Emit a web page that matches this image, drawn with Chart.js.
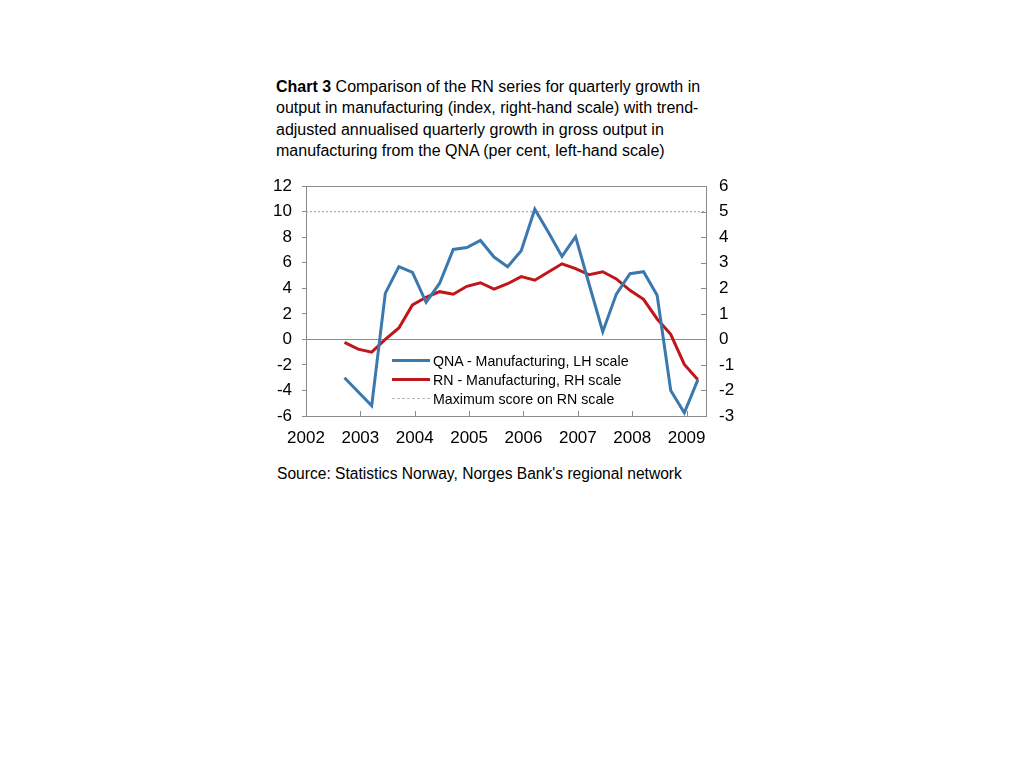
<!DOCTYPE html>
<html><head><meta charset="utf-8">
<script src="https://cdn.jsdelivr.net/npm/chart.js@4.4.0/dist/chart.umd.min.js"></script>
<style>
body{margin:0;background:#fff;font-family:"Liberation Sans",Arial,sans-serif;color:#000;}
#title{position:absolute;left:276px;top:76px;font-size:16px;line-height:21.3px;white-space:nowrap;}
#wrap{position:absolute;left:256px;top:166px;width:490px;height:294px;}
#legend{position:absolute;left:392px;top:351px;font-size:14.2px;}
.row{height:19px;display:flex;align-items:center;}
.sw{width:38px;margin-right:3px;}
#source{position:absolute;left:277px;top:465px;font-size:15.6px;white-space:nowrap;}
</style></head>
<body>
<div id="title"><b>Chart 3</b> Comparison of the RN series for quarterly growth in<br>output in manufacturing (index, right-hand scale) with trend-<br>adjusted annualised quarterly growth in gross output in<br>manufacturing from the QNA (per cent, left-hand scale)</div>
<div id="wrap"><canvas id="c" width="490" height="294"></canvas></div>
<div id="legend">
 <div class="row"><div class="sw" style="border-top:3px solid #3B78AE"></div><span>QNA - Manufacturing, LH scale</span></div>
 <div class="row"><div class="sw" style="border-top:3px solid #C0161B"></div><span>RN - Manufacturing, RH scale</span></div>
 <div class="row"><div class="sw" style="border-top:1px dashed #bbb"></div><span>Maximum score on RN scale</span></div>
</div>
<div id="source">Source: Statistics Norway, Norges Bank's regional network</div>
<script>
const quarters = ["2002Q3","2002Q4",
 "2003Q1","2003Q2","2003Q3","2003Q4",
 "2004Q1","2004Q2","2004Q3","2004Q4",
 "2005Q1","2005Q2","2005Q3","2005Q4",
 "2006Q1","2006Q2","2006Q3","2006Q4",
 "2007Q1","2007Q2","2007Q3","2007Q4",
 "2008Q1","2008Q2","2008Q3","2008Q4",
 "2009Q1"];
const qnaValues = [-3.0,-4.1,
 -5.2,3.6,5.7,5.25,
 2.9,4.4,7.05,7.2,
 7.75,6.45,5.7,6.95,
 10.2,8.4,6.5,8.05,
 4.3,0.6,3.55,5.15,
 5.3,3.45,-4.0,-5.75,
 -3.15];
const rnValues = [-0.12,-0.38,
 -0.5,0.0,0.45,1.35,
 1.65,1.87,1.77,2.08,
 2.22,1.97,2.18,2.46,
 2.32,2.64,2.96,2.77,
 2.53,2.65,2.37,1.92,
 1.57,0.8,0.2,-0.98,
 -1.58];
const maxScore = 5;
const yearTicks = [2002,2003,2004,2005,2006,2007,2008,2009];
const leftTicks = [-6,-4,-2,0,2,4,6,8,10,12];
const rightTicks = [-3,-2,-1,0,1,2,3,4,5,6];
const xMin = 2002, xMax = 2009.357;

function qx(q){const y=parseInt(q.slice(0,4));const n=parseInt(q.slice(5));return y+(3*n-0.5)/12;}
const qnaData = quarters.map((q,i)=>({x:qx(q),y:qnaValues[i]}));
const rnData = quarters.map((q,i)=>({x:qx(q),y:rnValues[i]}));
const maxData = [{x:xMin,y:maxScore},{x:xMax,y:maxScore}];

const AX = '#8a8a8a';
const FONT = {size:17, family:'"Liberation Sans", Arial, sans-serif'};
const frame = {
 id:'frame',
 beforeDatasetsDraw(chart){
  const {ctx,chartArea:a,scales} = chart;
  ctx.save();
  ctx.strokeStyle = AX; ctx.lineWidth = 1;
  ctx.strokeRect(Math.round(a.left)+0.5, Math.round(a.top)+0.5, Math.round(a.right-a.left), Math.round(a.bottom-a.top));
  ctx.beginPath();
  scales.x.ticks.forEach(t=>{
   const px = Math.round(scales.x.getPixelForValue(t.value))+0.5;
   ctx.moveTo(px, a.bottom); ctx.lineTo(px, a.bottom-5);
  });
  scales.y1.ticks.forEach(t=>{
   const py = Math.round(scales.y1.getPixelForValue(t.value))+0.5;
   ctx.moveTo(a.right, py); ctx.lineTo(a.right-5, py);
  });
  ctx.stroke();
  ctx.restore();
 }
};

new Chart(document.getElementById('c'), {
 type:'line',
 data:{datasets:[
  {label:'Maximum score on RN scale', data:maxData, yAxisID:'y1', borderColor:'#9a9a9a', borderWidth:1, borderDash:[2,2], pointRadius:0, order:3},
  {label:'RN - Manufacturing, RH scale', data:rnData, yAxisID:'y1', borderColor:'#C0161B', borderWidth:3, pointRadius:0, tension:0, order:2},
  {label:'QNA - Manufacturing, LH scale', data:qnaData, yAxisID:'y', borderColor:'#3B78AE', borderWidth:3, pointRadius:0, tension:0, order:1}
 ]},
 options:{
  responsive:false, animation:false, devicePixelRatio:1,
  layout:{padding:{top:0,left:0,right:0,bottom:0}},
  plugins:{legend:{display:false}, tooltip:{enabled:false}},
  scales:{
   x:{type:'linear', min:xMin, max:xMax,
    afterBuildTicks:s=>{s.ticks = yearTicks.map(v=>({value:v}));},
    afterFit:s=>{s.height=44;},
    grid:{display:false}, border:{display:false},
    ticks:{callback:v=>String(v), color:'#000', font:FONT, padding:4, maxRotation:0, autoSkip:false}
   },
   y:{position:'left', min:-6, max:12,
    afterBuildTicks:s=>{s.ticks = leftTicks.map(v=>({value:v}));},
    afterFit:s=>{s.width=50;},
    grid:{drawOnChartArea:true, color:c=>c.tick && c.tick.value===0 ? AX : 'rgba(0,0,0,0)', tickColor:AX, tickLength:4, drawTicks:true},
    border:{display:false},
    ticks:{color:'#000', font:FONT, padding:10}
   },
   y1:{position:'right', min:-3, max:6,
    afterBuildTicks:s=>{s.ticks = rightTicks.map(v=>({value:v}));},
    afterFit:s=>{s.width=40;},
    grid:{display:false}, border:{display:false},
    ticks:{color:'#000', font:FONT, padding:5}
   }
  }
 },
 plugins:[frame]
});
</script>
</body></html>
